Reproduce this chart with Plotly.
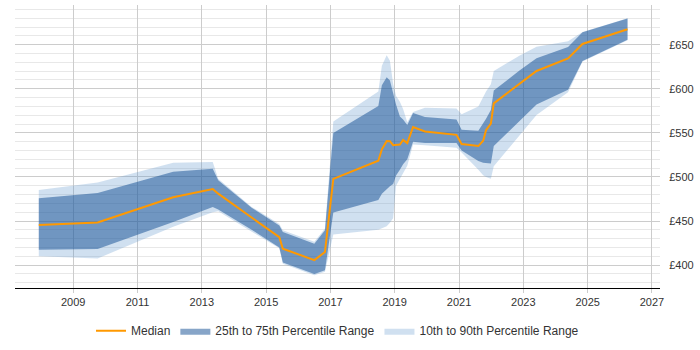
import plotly.graph_objects as go

years = [2007.93, 2009.76, 2012.11, 2013.34, 2013.51, 2014.55, 2015.41, 2015.52,
         2016.50, 2016.83, 2017.09, 2018.49, 2018.60, 2018.75, 2018.85, 2018.95,
         2019.04, 2019.16, 2019.26, 2019.39, 2019.57, 2019.94, 2020.92, 2021.08,
         2021.60, 2021.75, 2021.84, 2021.99, 2022.08, 2022.89, 2023.41, 2024.39,
         2024.84, 2026.24]

median = [445.4, 448.3, 477.0, 486.3, 481.0, 454.5, 431.6, 418.6,
          405.6, 414.8, 497.8, 518.3, 531.3, 540.6, 540.5, 536.0,
          536.5, 536.8, 542.0, 538.4, 556.6, 551.5, 547.7, 537.3,
          535.0, 541.0, 553.0, 560.5, 583.4, 605.5, 620.2, 634.4,
          650.8, 667.5]

p75 = [475.9, 481.8, 506.0, 509.4, 496.3, 465.1, 445.0, 437.5,
       424.3, 439.5, 549.9, 580.5, 604.0, 613.0, 609.4, 594.5,
       582.0, 568.5, 565.0, 559.0, 572.5, 568.0, 565.0, 553.6,
       552.3, 561.0, 566.0, 576.0, 598.0, 621.0, 634.5, 647.5,
       664.0, 679.7]

p25 = [417.5, 418.2, 449.0, 465.8, 463.0, 440.0, 420.0, 403.0,
       390.0, 394.0, 459.5, 473.7, 481.0, 486.6, 489.5, 492.0,
       501.6, 508.0, 514.5, 520.0, 540.0, 538.4, 538.4, 530.0,
       518.0, 516.0, 515.5, 515.3, 535.0, 564.0, 582.0, 599.0,
       631.5, 655.6]

p90 = [485.2, 493.7, 516.0, 516.8, 498.0, 466.0, 446.5, 439.5,
       426.5, 441.5, 562.8, 597.0, 626.0, 638.0, 631.7, 605.7,
       592.0, 585.3, 577.0, 562.0, 573.5, 578.5, 577.5, 571.0,
       580.0, 590.8, 597.0, 605.0, 620.2, 637.7, 647.6, 654.0,
       664.5, 680.0]

p10 = [410.0, 407.5, 443.5, 460.0, 461.0, 438.0, 419.0, 401.5,
       388.5, 392.5, 434.6, 440.2, 441.5, 444.0, 448.0, 453.2,
       490.0, 497.8, 504.0, 512.7, 536.8, 536.0, 533.0, 527.6,
       508.0, 502.0, 500.0, 497.8, 512.0, 547.6, 570.3, 596.0,
       631.0, 655.0]

x_ticks = [2009, 2011, 2013, 2015, 2017, 2019, 2021, 2023, 2025, 2027]

LIGHT = "rgba(98,152,205,0.3)"
DARK = "rgba(20,78,147,0.51)"
ORANGE = "rgb(255,153,0)"

fig = go.Figure()
fig.add_trace(go.Scatter(x=years, y=p10, mode="lines", line=dict(width=0),
                         showlegend=False, hoverinfo="skip"))
fig.add_trace(go.Scatter(x=years, y=p90, mode="lines", line=dict(width=0),
                         fill="tonexty", fillcolor=LIGHT,
                         name="10th to 90th Percentile Range", legendrank=3,
                         hoverinfo="skip"))
fig.add_trace(go.Scatter(x=years, y=p25, mode="lines", line=dict(width=0),
                         showlegend=False, hoverinfo="skip"))
fig.add_trace(go.Scatter(x=years, y=p75, mode="lines", line=dict(width=0),
                         fill="tonexty", fillcolor=DARK,
                         name="25th to 75th Percentile Range", legendrank=2,
                         hoverinfo="skip"))
fig.add_trace(go.Scatter(x=years, y=median, mode="lines",
                         line=dict(color=ORANGE, width=2),
                         name="Median", legendrank=1))

fig.update_layout(
    width=700, height=350,
    margin=dict(l=15, r=40, t=5, b=57),
    paper_bgcolor="white", plot_bgcolor="white",
    font=dict(family="Liberation Sans, Arial, sans-serif", size=11, color="#333"),
    showlegend=True,
    legend=dict(orientation="h", x=0.5, xanchor="center", y=-0.1, yanchor="top",
                font=dict(size=12, color="#333"), traceorder="normal",
                itemwidth=30),
    xaxis=dict(range=[2007.19, 2027.25], tickvals=x_ticks,
               ticktext=[str(t) for t in x_ticks],
               showgrid=True, gridcolor="#cccccc", gridwidth=1,
               showline=True, linecolor="black", linewidth=1,
               ticks="outside", ticklen=4, tickcolor="#cccccc",
               zeroline=False, fixedrange=True),
    yaxis=dict(range=[374, 695], side="right", dtick=50, tick0=0,
               tickprefix="£", showgrid=True, gridcolor="#cccccc", gridwidth=1,
               ticks="outside", ticklen=6, tickcolor="rgba(0,0,0,0)",
               minor=dict(dtick=10, tick0=0, showgrid=True, gridcolor="#e8e8e8"),
               zeroline=False, showline=False, fixedrange=True),
)

fig.write_html("out.html")
